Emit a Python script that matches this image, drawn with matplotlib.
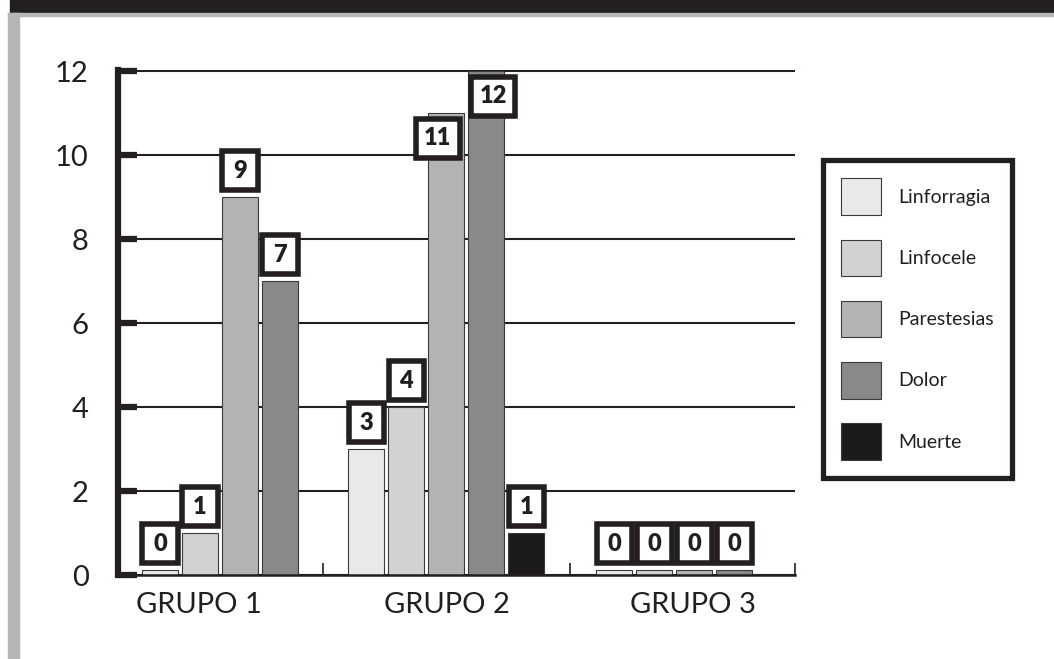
"bar chart of complications per group"

import matplotlib
matplotlib.use("Agg")
import matplotlib.pyplot as plt
from matplotlib.patches import Rectangle, Patch
from matplotlib.path import Path

plt.rcParams['font.family'] = ['Lato', 'DejaVu Sans']

# data
grupos = ['GRUPO 1', 'GRUPO 2', 'GRUPO 3']
series = ['Linforragia', 'Linfocele', 'Parestesias', 'Dolor', 'Muerte']
linforragia = [0, 3, 0]
linfocele = [1, 4, 0]
parestesias = [9, 11, 0]
dolor = [7, 12, 0]
muerte = [None, 1, None]   # no bar in groups 1 and 3
values = [linforragia, linfocele, parestesias, dolor, muerte]

colors = ['#e8e9ea', '#d1d3d2', '#b2b3b5', '#88898b', '#1c1a1b']
ink = '#231f20'

# layout (in bar-step units)
group_x = [0.0, 5.65, 11.35]
bar_w = 0.9
zero_stub = 0.12
label_x = [-0.52, 5.68, 11.83]
bounds = [2.57, 8.75, 14.37]
label_nudge = {(1, 2): (-6, -18), (1, 3): (5, -18)}


def value_box(x0, y0, width, height, mutation_size):
    # square-ish box around the value, never narrower than 0.9 of its height
    pad = 0.36 * mutation_size
    w = width + 2 * pad
    h = height + 2 * pad
    cx = x0 + width / 2
    cy = y0 + height / 2
    w = max(w, 0.9 * h)
    l, r, b, t = cx - w / 2, cx + w / 2, cy - h / 2, cy + h / 2
    return Path([(l, b), (r, b), (r, t), (l, t), (l, b)],
                [Path.MOVETO, Path.LINETO, Path.LINETO, Path.LINETO, Path.CLOSEPOLY])


fig = plt.figure(figsize=(10.54, 6.59), dpi=100)
fig.patches.append(Rectangle((10 / 1054, 1 - 13 / 659), 1, 13 / 659,
                             transform=fig.transFigure, color=ink, zorder=0))
fig.patches.append(Rectangle((8 / 1054, 1 - 16 / 659), 1, 3 / 659,
                             transform=fig.transFigure, color='#b5b6b8', zorder=0))
fig.patches.append(Rectangle((8 / 1054, 0), 11 / 1054, 1 - 13 / 659,
                             transform=fig.transFigure, color='#b5b6b8', zorder=0))

ax = fig.add_axes([118 / 1054, 84 / 659, 677 / 1054, 505 / 659])

for g in range(len(grupos)):
    present = [s for s in range(len(series)) if values[s][g] is not None]
    n = len(present)
    for j, s in enumerate(present):
        v = values[s][g]
        x = group_x[g] + j - (n - 1) / 2
        h = v if v > 0 else zero_stub
        ax.bar(x, h, width=bar_w, color=colors[s], edgecolor='#3a3a3a',
               linewidth=0.8, zorder=2)
        dx, dy = label_nudge.get((g, s), (0, 19))
        ax.annotate(str(v), (x, h), xytext=(dx, dy), textcoords='offset points',
                    ha='center', va='center', fontsize=17, fontweight='heavy',
                    color=ink, zorder=5,
                    bbox=dict(boxstyle=value_box, fc='white', ec=ink, lw=4,
                              joinstyle='miter'))

ax.set_ylim(0, 12.03)
ax.set_xlim(-2.55, bounds[-1])
ax.set_yticks(range(0, 13, 2))
ax.grid(axis='y', color=ink, linewidth=1.5)
ax.set_axisbelow(True)

for side in ['top', 'right']:
    ax.spines[side].set_visible(False)
ax.spines['left'].set_linewidth(4.5)
ax.spines['left'].set_color(ink)
ax.spines['bottom'].set_linewidth(1.8)
ax.spines['bottom'].set_color(ink)

ax.tick_params(axis='y', direction='in', length=14, width=4.5, color=ink,
               pad=21, labelsize=21, labelcolor=ink)
ax.set_xticks(bounds)
ax.set_xticklabels([])
ax.tick_params(axis='x', which='major', direction='in', length=9, width=1.2,
               color=ink)
ax.set_xticks(label_x, minor=True)
ax.set_xticklabels(grupos, minor=True)
ax.tick_params(axis='x', which='minor', length=0, pad=12, labelsize=21,
               labelcolor=ink)

handles = [Patch(facecolor=c, edgecolor='#3a3a3a', linewidth=0.8) for c in colors]
leg = ax.legend(handles, series, loc='upper left',
                bbox_to_anchor=(823 / 1054, 1 - 160 / 659),
                bbox_transform=fig.transFigure, fontsize=14, frameon=True,
                framealpha=1, fancybox=False, handlelength=2.05,
                handleheight=2.5, handletextpad=0.85, labelspacing=1.28,
                borderpad=0.95, borderaxespad=0)
leg.get_frame().set_edgecolor(ink)
leg.get_frame().set_linewidth(3.8)
for t in leg.get_texts():
    t.set_color(ink)

fig.savefig('out.png', dpi=100)
